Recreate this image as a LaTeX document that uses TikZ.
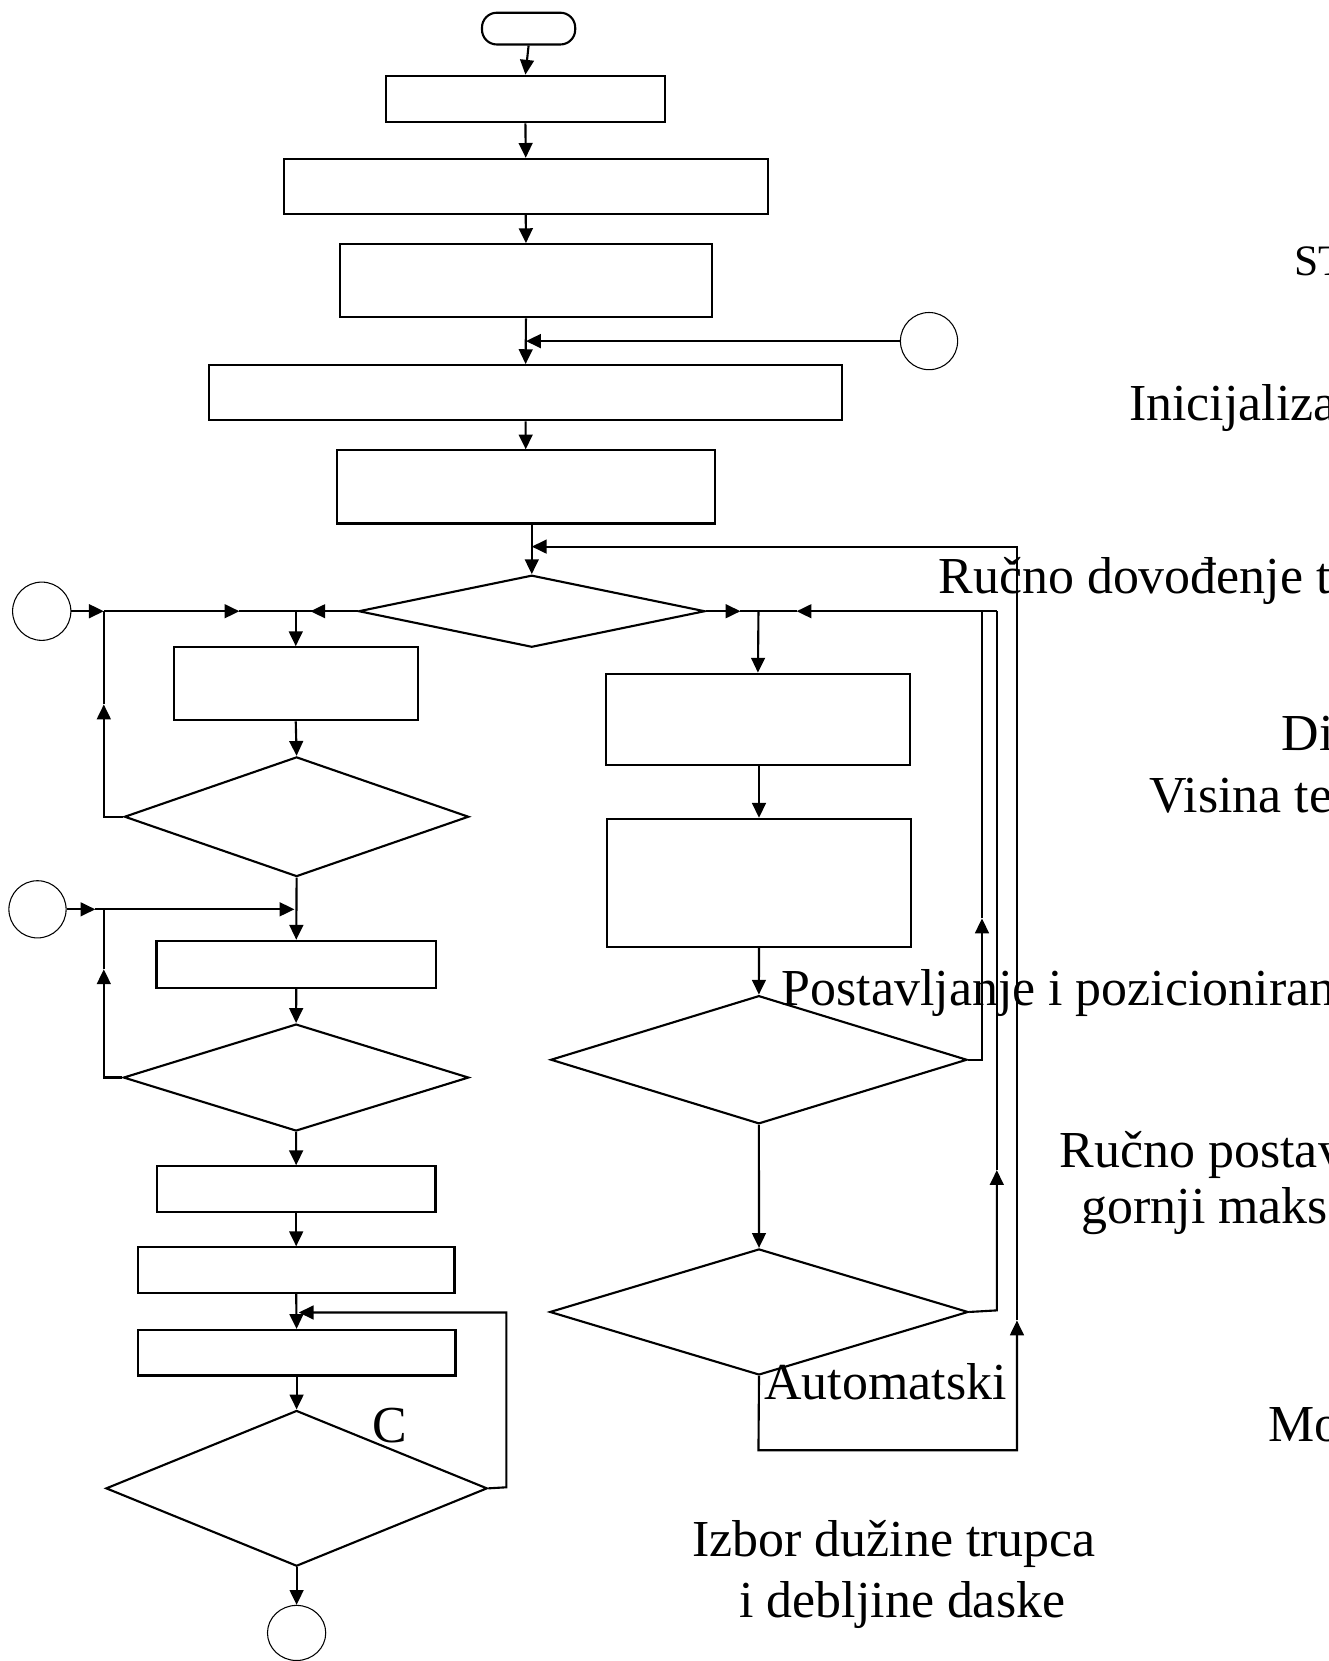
\documentclass[tikz,border=0pt]{standalone}
\usepackage{fontspec}
\setmainfont{Liberation Serif}
\usetikzlibrary{shapes.geometric,arrows.meta}
\begin{document}
\begin{tikzpicture}[x=0.5pt,y=-0.5pt,
  line width=1pt,
  arr/.style={-{Triangle[length=7pt,width=6.5pt]}},
  sz/.style 2 args={minimum width=#1*0.5pt,minimum height=#2*0.5pt},
  box/.style={draw,rectangle,inner sep=0pt},
  dec/.style={draw,diamond,inner sep=0pt},
  conn/.style={draw,circle,line width=0.5pt,inner sep=0pt},
  lbl/.style={inner sep=0pt,anchor=base west,font=\fontsize{24.5pt}{29pt}\selectfont},
]
\useasboundingbox (0,0) rectangle (1254,1568);
\begin{scope}
\clip (0,0) rectangle (1254,1568);
% main column
\node[box,rounded corners=7pt,sz={88}{30}] (start) at (499,27) {};
\node[box,sz={263}{44}] (b1) at (496,93.5) {};
\node[box,sz={457}{52}] (b2) at (496.3,176) {};
\node[box,sz={351}{69}] (b3) at (496.5,265) {};
\node[box,sz={598}{52}] (b4) at (496.2,370.7) {};
\node[box,sz={357}{69}] (b5) at (496.3,459.7) {};
\node[dec,sz={327}{68}] (d1) at (502,577) {};
\node[conn,minimum size=27pt] (c1) at (877,322) {};
% left column
\node[conn,minimum size=27.5pt] (cL1) at (39.4,577) {};
\node[box,sz={230}{69}] (L1) at (279.2,645.5) {};
\node[dec,sz={325}{113}] (Ld1) at (280,771) {};
\node[conn,minimum size=27pt] (cL2) at (35.4,858.4) {};
\node[box,sz={264}{44.5}] (L2) at (279.7,910.4) {};
\node[dec,sz={326}{101}] (Ld2) at (279.5,1017.2) {};
\node[box,sz={263}{43}] (L3) at (279.6,1122.5) {};
\node[box,sz={299}{43}] (L4) at (279.6,1199) {};
\node[box,sz={300}{43}] (L5) at (280,1277) {};
\node[dec,sz={360}{147}] (Ld3) at (280,1405) {};
\node[draw,ellipse,line width=0.5pt,inner sep=0pt,minimum width=27.5pt,minimum height=26pt] (cEnd) at (280,1541.5) {};
% right column
\node[box,sz={287}{86}] (R1) at (715.5,679) {};
\node[box,sz={287}{121}] (R2) at (716.5,833.5) {};
\node[dec,sz={393}{121}] (Rd1) at (716.4,1000.4) {};
\node[dec,sz={395}{119}] (Rd2) at (716.5,1238.5) {};

\coordinate (jL) at (98,577);
\coordinate (jL2) at (98,858.4);
\coordinate (jR) at (716,577);

% main connectors
\draw[arr] (start.south) -- (b1.north);
\draw[arr] (b1.south) -- (b2.north);
\draw[arr] (b2.south) -- (b3.north);
\draw[arr] (b3.south) -- (b4.north);
\draw[arr] (c1.west) -- (c1.west -| b3.south);
\draw[arr] (b4.south) -- (b5.north);
\draw[arr] (d1.north |- b5.south) -- (d1.north);

% left connectors
\draw[arr] (cL1.east) -- (jL);
\draw[arr] (jL) -- (226,577);
\draw (226,577) -- (d1.west);
\draw[arr] (d1.west) -- (293,577);
\draw[arr] (L1.north |- d1.west) -- (L1.north);
\draw[arr] (L1.south) -- (Ld1.north);
\draw[arr] (Ld1.west) -- (98,771) -- (98,665);
\draw (98,665) -- (jL);
\draw[arr] (cL2.east) -- (90,858.4);
\draw (90,858.4) -- (jL2);
\draw[arr] (jL2) -- (278,858.4);
\draw[arr] (Ld1.south) -- (L2.north);
\draw[arr] (L2.south) -- (Ld2.north);
\draw[arr] (Ld2.west) -- (98,1017.2) -- (98,915);
\draw (98,915) -- (jL2);
\draw[arr] (Ld2.south) -- (L3.north);
\draw[arr] (L3.south) -- (L4.north);
\draw[arr] (L4.south) -- (L5.north);
\draw[arr] (Ld3.east) -- (478,1404) -- (478,1239) -- (282,1239);
\draw[arr] (L5.south) -- (Ld3.north);
\draw[arr] (Ld3.south) -- (cEnd.north);

% right connectors
\draw[arr] (d1.east) -- (699,577);
\draw (699,577) -- (jR);
\draw[arr] (941,577) -- (752,577);
\draw (752,577) -- (jR);
\draw[arr] (jR) -- (R1.north);
\draw[arr] (R2.north |- R1.south) -- (R2.north);
\draw[arr] (R2.south) -- (Rd1.north);
\draw[arr] (Rd1.south) -- (Rd2.north);
\draw[arr] (Rd1.east) -- (927,1000.4) -- (927,867);
\draw (927,867) -- (927,577);
\draw[arr] (Rd2.east) -- (941,1237) -- (941,1104.6);
\draw (941,1104.6) -- (941,577);
\draw[arr] (Rd2.south) -- (716,1369) -- (960,1369) -- (960,1246.5);
\draw[arr] (960,1246.5) -- (960,516) -- (d1.north |- 0,516);

% labels
\node[lbl,font=\fontsize{20.5pt}{24pt}\selectfont] (tST) at (1221,260) {ST};
\node[lbl] (tIni) at (1065,397) {Inicijaliza};
\node[lbl] (tRuc) at (885,560) {Ručno dovođenje t};
\node[lbl] (tDi) at (1209,708) {Di};
\node[lbl] (tVis) at (1084,767) {Visina te};
\node[lbl] (tPos) at (737,949) {Postavljanje i pozicioniran};
\node[lbl] (tRp) at (999.6,1102) {Ručno postav};
\node[lbl] (tGor) at (1020,1155) {gornji maks};
\node[lbl] (tAut) at (720.6,1321) {Automatski};
\node[lbl] (tMo) at (1196,1361) {Mo};
\node[lbl] (tC) at (350.5,1362) {C};
\node[lbl] (tIz) at (652.5,1469) {Izbor dužine trupca};
\node[lbl] (tDeb) at (697,1527) {i debljine daske};
\end{scope}
\end{tikzpicture}
\end{document}
